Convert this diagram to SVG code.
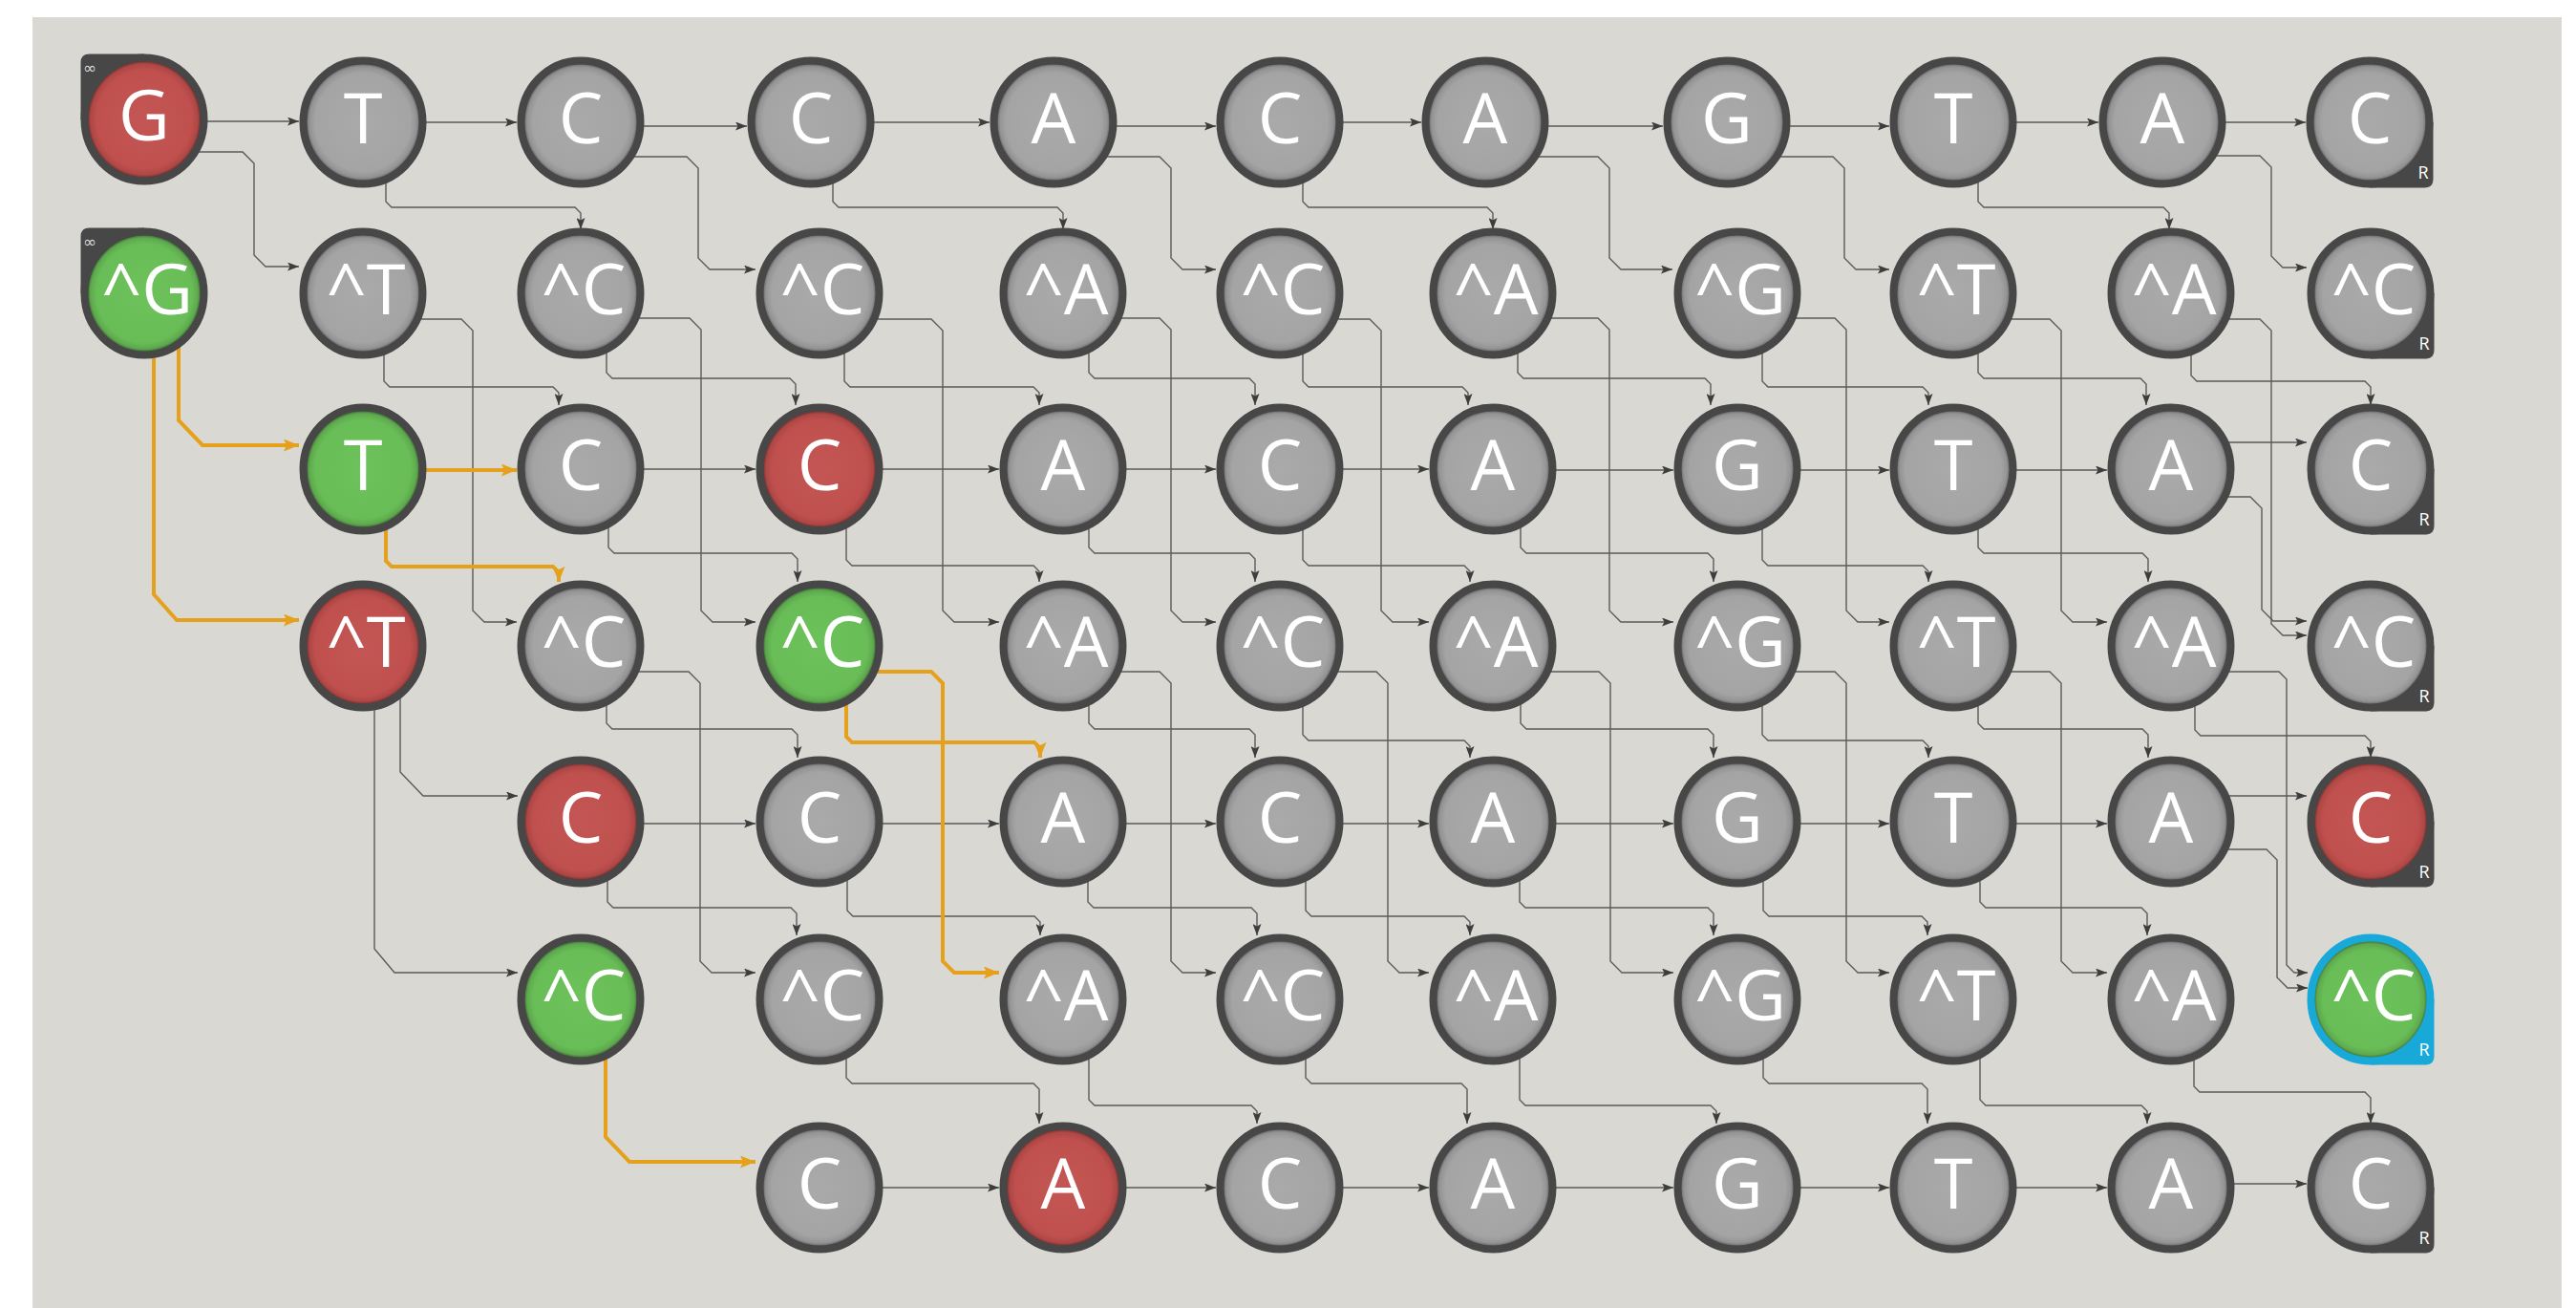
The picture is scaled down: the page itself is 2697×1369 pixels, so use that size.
<svg xmlns="http://www.w3.org/2000/svg" width="2697" height="1369" viewBox="0 0 2697 1369">
<style>
.edge{fill:none;stroke:#5a5a5a;stroke-width:1.4;marker-end:url(#ah)}
.hl{fill:none;stroke:#e6a11c;stroke-width:4;marker-end:url(#ahO)}
.node ellipse{stroke:#474747;stroke-width:8}
.gray ellipse{fill:url(#gGray)}
.red ellipse{fill:url(#gRed)}
.green ellipse{fill:url(#gGreen)}
.badge{fill:#474747}
.sel ellipse{stroke:#19a9d9}
.sel .badge{fill:#19a9d9}
.lbl{font-family:"Open Sans","DejaVu Sans",sans-serif;font-size:74px;fill:#fff;text-anchor:middle}
.inf{font-family:"DejaVu Sans",sans-serif;font-size:17px;fill:#d6d6d6;text-anchor:middle}
.r{font-family:"Open Sans","DejaVu Sans",sans-serif;font-size:18px;fill:#fff;text-anchor:middle}
</style>
<defs>
<radialGradient id="gGray" cx="50%" cy="50%" r="50%">
<stop offset="0" stop-color="#aaaaaa"/><stop offset="0.8" stop-color="#a4a4a4"/><stop offset="0.9" stop-color="#939393"/><stop offset="0.94" stop-color="#6e6e6e"/><stop offset="1" stop-color="#555555"/>
</radialGradient>
<radialGradient id="gRed" cx="50%" cy="50%" r="50%">
<stop offset="0" stop-color="#c35654"/><stop offset="0.8" stop-color="#bf504e"/><stop offset="0.9" stop-color="#ad4745"/><stop offset="0.94" stop-color="#7c3331"/><stop offset="1" stop-color="#5a2a29"/>
</radialGradient>
<radialGradient id="gGreen" cx="50%" cy="50%" r="50%">
<stop offset="0" stop-color="#6ec25b"/><stop offset="0.8" stop-color="#69bd57"/><stop offset="0.9" stop-color="#5ea94e"/><stop offset="0.94" stop-color="#44783a"/><stop offset="1" stop-color="#35592e"/>
</radialGradient>
<marker id="ah" markerUnits="userSpaceOnUse" markerWidth="12" markerHeight="9" refX="12" refY="4.5" orient="auto"><path d="M0,0 L12,4.5 L0,9 L2.5,4.5 z" fill="#3d3d3d"/></marker>
<marker id="ahO" markerUnits="userSpaceOnUse" markerWidth="16" markerHeight="13" refX="16" refY="6.5" orient="auto"><path d="M0,0 L16,6.5 L0,13 L3,6.5 z" fill="#e6a11c"/></marker>
<path id="bTL" d="M-66.5,0 V-59.5 Q-66.5,-68.5 -57.5,-68.5 H0 V0 z"/>
<path id="bBR" d="M0,0 H66.5 V59.5 Q66.5,68.5 57.5,68.5 H0 z"/>
</defs>
<rect x="0" y="0" width="2697" height="1369" fill="#ffffff"/>
<rect x="34" y="18" width="2648" height="1351" fill="#d9d8d3"/>
<g id="connectors">
<path class="edge" d="M404,178 V211 L410,217 H602 L608,223 V240"/>
<path class="edge" d="M872,178 V211 L878,217 H1107 L1113,223 V240"/>
<path class="edge" d="M1364,178 V211 L1370,217 H1557 L1563,223 V240"/>
<path class="edge" d="M2071,178 V211 L2077,217 H2265 L2271,223 V240"/>
<path class="edge" d="M402,357 V399 L408,405 H579 L585,411 V424"/>
<path class="edge" d="M635,357 V390 L641,396 H827 L833,402 V424"/>
<path class="edge" d="M884,357 V399 L890,405 H1082 L1088,411 V424"/>
<path class="edge" d="M1140,357 V390 L1146,396 H1308 L1314,402 V424"/>
<path class="edge" d="M1364,357 V399 L1370,405 H1531 L1537,411 V424"/>
<path class="edge" d="M1589,357 V390 L1595,396 H1785 L1791,402 V424"/>
<path class="edge" d="M1845,357 V399 L1851,405 H2013 L2019,411 V424"/>
<path class="edge" d="M2071,357 V390 L2077,396 H2241 L2247,402 V424"/>
<path class="edge" d="M2294,357 V393 L2300,399 H2476 L2482,405 V424"/>
<path class="edge" d="M637,541 V573 L643,579 H829 L835,585 V609"/>
<path class="edge" d="M886,541 V586 L892,592 H1082 L1088,598 V609"/>
<path class="edge" d="M1140,541 V573 L1146,579 H1308 L1314,585 V609"/>
<path class="edge" d="M1364,541 V586 L1370,592 H1533 L1539,598 V609"/>
<path class="edge" d="M1592,541 V573 L1598,579 H1788 L1794,585 V609"/>
<path class="edge" d="M1845,541 V586 L1851,592 H2013 L2019,598 V609"/>
<path class="edge" d="M2071,541 V573 L2077,579 H2243 L2249,585 V609"/>
<path class="edge" d="M635,726 V757 L641,763 H829 L835,769 V793"/>
<path class="edge" d="M1140,726 V757 L1146,763 H1308 L1314,769 V793"/>
<path class="edge" d="M1364,726 V769 L1370,775 H1533 L1539,781 V793"/>
<path class="edge" d="M1592,726 V757 L1598,763 H1788 L1794,769 V793"/>
<path class="edge" d="M1845,726 V769 L1851,775 H2013 L2019,781 V793"/>
<path class="edge" d="M2071,726 V757 L2077,763 H2243 L2249,769 V793"/>
<path class="edge" d="M2298,726 V764 L2304,770 H2476 L2482,776 V793"/>
<path class="edge" d="M636,910 V944 L642,950 H828 L834,956 V979"/>
<path class="edge" d="M887,910 V953 L893,959 H1083 L1089,965 V979"/>
<path class="edge" d="M1139,910 V944 L1145,950 H1310 L1316,956 V979"/>
<path class="edge" d="M1367,910 V953 L1373,959 H1533 L1539,965 V979"/>
<path class="edge" d="M1591,910 V944 L1597,950 H1788 L1794,956 V979"/>
<path class="edge" d="M1846,910 V953 L1852,959 H2012 L2018,965 V979"/>
<path class="edge" d="M2073,910 V944 L2079,950 H2242 L2248,956 V979"/>
<path class="edge" d="M886,1096 V1128 L892,1134 H1082 L1088,1140 V1176"/>
<path class="edge" d="M1140,1096 V1151 L1146,1157 H1310 L1316,1163 V1176"/>
<path class="edge" d="M1367,1096 V1128 L1373,1134 H1530 L1536,1140 V1176"/>
<path class="edge" d="M1591,1096 V1151 L1597,1157 H1791 L1797,1163 V1176"/>
<path class="edge" d="M1846,1096 V1128 L1852,1134 H2012 L2018,1140 V1176"/>
<path class="edge" d="M2073,1096 V1151 L2079,1157 H2242 L2248,1163 V1176"/>
<path class="edge" d="M2297,1096 V1137 L2303,1143 H2476 L2482,1149 V1176"/>
<path class="edge" d="M200,159 H254 L266,171 V267 L278,279 H313"/>
<path class="edge" d="M660,164 H719 L731,176 V270 L743,282 H791"/>
<path class="edge" d="M1150,164 H1214 L1226,176 V270 L1238,282 H1273"/>
<path class="edge" d="M1600,164 H1673 L1685,176 V270 L1697,282 H1751"/>
<path class="edge" d="M1850,164 H1919 L1931,176 V270 L1943,282 H1978"/>
<path class="edge" d="M2310,163 H2366 L2378,175 V268 L2390,280 H2415"/>
<path class="edge" d="M430,334 H483 L495,346 V639 L507,651 H541"/>
<path class="edge" d="M660,333 H722 L734,345 V639 L746,651 H791"/>
<path class="edge" d="M910,334 H975 L987,346 V639 L999,651 H1046"/>
<path class="edge" d="M1160,333 H1214 L1226,345 V639 L1238,651 H1273"/>
<path class="edge" d="M1390,334 H1434 L1446,346 V639 L1458,651 H1496"/>
<path class="edge" d="M1610,333 H1673 L1685,345 V639 L1697,651 H1752"/>
<path class="edge" d="M1870,333 H1921 L1933,345 V639 L1945,651 H1978"/>
<path class="edge" d="M2095,334 H2146 L2158,346 V639 L2170,651 H2206"/>
<path class="edge" d="M2320,334 H2366 L2378,346 V653 L2390,665 H2415"/>
<path class="edge" d="M2320,520 H2356 L2368,532 V638 L2380,650 H2415"/>
<path class="edge" d="M660,703 H721 L733,715 V1006 L745,1018 H791"/>
<path class="edge" d="M1160,703 H1214 L1226,715 V1006 L1238,1018 H1273"/>
<path class="edge" d="M1390,703 H1441 L1453,715 V1006 L1465,1018 H1496"/>
<path class="edge" d="M1610,703 H1674 L1686,715 V1006 L1698,1018 H1752"/>
<path class="edge" d="M1870,703 H1921 L1933,715 V1006 L1945,1018 H1978"/>
<path class="edge" d="M2095,703 H2146 L2158,715 V1006 L2170,1018 H2206"/>
<path class="edge" d="M2320,703 H2386 L2394,711 V1010 L2402,1018 H2416"/>
<path class="edge" d="M2320,889 H2373 L2384,900 V1023 L2395,1034 H2416"/>
<path class="edge" d="M419,720 V808 L443,833 H542"/>
<path class="edge" d="M392,720 V993 L413,1018 H542"/>
<path class="edge" d="M200,127 H313"/>
<path class="edge" d="M420,128 H541"/>
<path class="edge" d="M650,132 H782"/>
<path class="edge" d="M890,128 H1036"/>
<path class="edge" d="M1140,132 H1273"/>
<path class="edge" d="M1380,128 H1488"/>
<path class="edge" d="M1590,132 H1741"/>
<path class="edge" d="M1850,132 H1978"/>
<path class="edge" d="M2080,128 H2197"/>
<path class="edge" d="M2300,128 H2414"/>
<path class="edge" d="M650,491 H791"/>
<path class="edge" d="M900,491 H1046"/>
<path class="edge" d="M1150,491 H1273"/>
<path class="edge" d="M1380,491 H1496"/>
<path class="edge" d="M1600,492 H1752"/>
<path class="edge" d="M1860,492 H1978"/>
<path class="edge" d="M2080,492 H2206"/>
<path class="edge" d="M2310,463 H2415"/>
<path class="edge" d="M650,862 H791"/>
<path class="edge" d="M900,862 H1046"/>
<path class="edge" d="M1150,862 H1273"/>
<path class="edge" d="M1380,862 H1496"/>
<path class="edge" d="M1600,862 H1752"/>
<path class="edge" d="M1860,862 H1978"/>
<path class="edge" d="M2080,862 H2206"/>
<path class="edge" d="M2310,833 H2415"/>
<path class="edge" d="M900,1243 H1046"/>
<path class="edge" d="M1150,1243 H1273"/>
<path class="edge" d="M1380,1243 H1496"/>
<path class="edge" d="M1600,1243 H1752"/>
<path class="edge" d="M1860,1243 H1978"/>
<path class="edge" d="M2080,1243 H2206"/>
<path class="edge" d="M2310,1239 H2415"/>
<path class="hl" d="M187,340 V440 L212,466 H313"/>
<path class="hl" d="M161,340 V622 L185,649 H313"/>
<path class="hl" d="M420,492 H541"/>
<path class="hl" d="M404,541 V587 L410,593 H579 L585,599 V609"/>
<path class="hl" d="M886,726 V771 L892,777 H1083 L1089,783 V793"/>
<path class="hl" d="M910,703 H975 L987,715 V1006 L999,1018 H1046"/>
<path class="hl" d="M634,1090 V1190 L659,1216 H791"/>
</g>
<g id="nodes">
<g id="n0_0" class="node red" transform="translate(151,125)"><use href="#bTL" class="badge"/><ellipse rx="62.5" ry="64.5"/><text class="lbl" y="22">G</text><text class="inf" x="-57" y="-48">∞</text></g>
<g id="n0_1" class="node gray" transform="translate(380,128)"><ellipse rx="62.5" ry="64.5"/><text class="lbl" y="22">T</text></g>
<g id="n0_2" class="node gray" transform="translate(608,128)"><ellipse rx="62.5" ry="64.5"/><text class="lbl" y="22">C</text></g>
<g id="n0_3" class="node gray" transform="translate(849,128)"><ellipse rx="62.5" ry="64.5"/><text class="lbl" y="22">C</text></g>
<g id="n0_4" class="node gray" transform="translate(1103,128)"><ellipse rx="62.5" ry="64.5"/><text class="lbl" y="22">A</text></g>
<g id="n0_5" class="node gray" transform="translate(1340,128)"><ellipse rx="62.5" ry="64.5"/><text class="lbl" y="22">C</text></g>
<g id="n0_6" class="node gray" transform="translate(1555,128)"><ellipse rx="62.5" ry="64.5"/><text class="lbl" y="22">A</text></g>
<g id="n0_7" class="node gray" transform="translate(1808,128)"><ellipse rx="62.5" ry="64.5"/><text class="lbl" y="22">G</text></g>
<g id="n0_8" class="node gray" transform="translate(2045,128)"><ellipse rx="62.5" ry="64.5"/><text class="lbl" y="22">T</text></g>
<g id="n0_9" class="node gray" transform="translate(2264,128)"><ellipse rx="62.5" ry="64.5"/><text class="lbl" y="22">A</text></g>
<g id="n0_10" class="node gray" transform="translate(2481,128)"><use href="#bBR" class="badge"/><ellipse rx="62.5" ry="64.5"/><text class="lbl" y="22">C</text><text class="r" x="56" y="59">R</text></g>

<g id="n1_0" class="node green" transform="translate(151,307)"><use href="#bTL" class="badge"/><ellipse rx="62.5" ry="64.5"/><text class="lbl" x="3" y="22">^G</text><text class="inf" x="-57" y="-48">∞</text></g>
<g id="n1_1" class="node gray" transform="translate(380,307)"><ellipse rx="62.5" ry="64.5"/><text class="lbl" x="3" y="22">^T</text></g>
<g id="n1_2" class="node gray" transform="translate(608,307)"><ellipse rx="62.5" ry="64.5"/><text class="lbl" x="3" y="22">^C</text></g>
<g id="n1_3" class="node gray" transform="translate(858,307)"><ellipse rx="62.5" ry="64.5"/><text class="lbl" x="3" y="22">^C</text></g>
<g id="n1_4" class="node gray" transform="translate(1113,307)"><ellipse rx="62.5" ry="64.5"/><text class="lbl" x="3" y="22">^A</text></g>
<g id="n1_5" class="node gray" transform="translate(1340,307)"><ellipse rx="62.5" ry="64.5"/><text class="lbl" x="3" y="22">^C</text></g>
<g id="n1_6" class="node gray" transform="translate(1563,307)"><ellipse rx="62.5" ry="64.5"/><text class="lbl" x="3" y="22">^A</text></g>
<g id="n1_7" class="node gray" transform="translate(1819,307)"><ellipse rx="62.5" ry="64.5"/><text class="lbl" x="3" y="22">^G</text></g>
<g id="n1_8" class="node gray" transform="translate(2045,307)"><ellipse rx="62.5" ry="64.5"/><text class="lbl" x="3" y="22">^T</text></g>
<g id="n1_9" class="node gray" transform="translate(2273,307)"><ellipse rx="62.5" ry="64.5"/><text class="lbl" x="3" y="22">^A</text></g>
<g id="n1_10" class="node gray" transform="translate(2482,307)"><use href="#bBR" class="badge"/><ellipse rx="62.5" ry="64.5"/><text class="lbl" x="3" y="22">^C</text><text class="r" x="56" y="59">R</text></g>

<g id="n2_1" class="node green" transform="translate(380,491)"><ellipse rx="62.5" ry="64.5"/><text class="lbl" y="22">T</text></g>
<g id="n2_2" class="node gray" transform="translate(608,491)"><ellipse rx="62.5" ry="64.5"/><text class="lbl" y="22">C</text></g>
<g id="n2_3" class="node red" transform="translate(858,491)"><ellipse rx="62.5" ry="64.5"/><text class="lbl" y="22">C</text></g>
<g id="n2_4" class="node gray" transform="translate(1113,491)"><ellipse rx="62.5" ry="64.5"/><text class="lbl" y="22">A</text></g>
<g id="n2_5" class="node gray" transform="translate(1340,491)"><ellipse rx="62.5" ry="64.5"/><text class="lbl" y="22">C</text></g>
<g id="n2_6" class="node gray" transform="translate(1563,491)"><ellipse rx="62.5" ry="64.5"/><text class="lbl" y="22">A</text></g>
<g id="n2_7" class="node gray" transform="translate(1819,491)"><ellipse rx="62.5" ry="64.5"/><text class="lbl" y="22">G</text></g>
<g id="n2_8" class="node gray" transform="translate(2045,491)"><ellipse rx="62.5" ry="64.5"/><text class="lbl" y="22">T</text></g>
<g id="n2_9" class="node gray" transform="translate(2273,491)"><ellipse rx="62.5" ry="64.5"/><text class="lbl" y="22">A</text></g>
<g id="n2_10" class="node gray" transform="translate(2482,491)"><use href="#bBR" class="badge"/><ellipse rx="62.5" ry="64.5"/><text class="lbl" y="22">C</text><text class="r" x="56" y="59">R</text></g>

<g id="n3_1" class="node red" transform="translate(380,676)"><ellipse rx="62.5" ry="64.5"/><text class="lbl" x="3" y="22">^T</text></g>
<g id="n3_2" class="node gray" transform="translate(608,676)"><ellipse rx="62.5" ry="64.5"/><text class="lbl" x="3" y="22">^C</text></g>
<g id="n3_3" class="node green" transform="translate(858,676)"><ellipse rx="62.5" ry="64.5"/><text class="lbl" x="3" y="22">^C</text></g>
<g id="n3_4" class="node gray" transform="translate(1113,676)"><ellipse rx="62.5" ry="64.5"/><text class="lbl" x="3" y="22">^A</text></g>
<g id="n3_5" class="node gray" transform="translate(1340,676)"><ellipse rx="62.5" ry="64.5"/><text class="lbl" x="3" y="22">^C</text></g>
<g id="n3_6" class="node gray" transform="translate(1563,676)"><ellipse rx="62.5" ry="64.5"/><text class="lbl" x="3" y="22">^A</text></g>
<g id="n3_7" class="node gray" transform="translate(1819,676)"><ellipse rx="62.5" ry="64.5"/><text class="lbl" x="3" y="22">^G</text></g>
<g id="n3_8" class="node gray" transform="translate(2045,676)"><ellipse rx="62.5" ry="64.5"/><text class="lbl" x="3" y="22">^T</text></g>
<g id="n3_9" class="node gray" transform="translate(2273,676)"><ellipse rx="62.5" ry="64.5"/><text class="lbl" x="3" y="22">^A</text></g>
<g id="n3_10" class="node gray" transform="translate(2482,676)"><use href="#bBR" class="badge"/><ellipse rx="62.5" ry="64.5"/><text class="lbl" x="3" y="22">^C</text><text class="r" x="56" y="59">R</text></g>

<g id="n4_2" class="node red" transform="translate(608,860)"><ellipse rx="62.5" ry="64.5"/><text class="lbl" y="22">C</text></g>
<g id="n4_3" class="node gray" transform="translate(858,860)"><ellipse rx="62.5" ry="64.5"/><text class="lbl" y="22">C</text></g>
<g id="n4_4" class="node gray" transform="translate(1113,860)"><ellipse rx="62.5" ry="64.5"/><text class="lbl" y="22">A</text></g>
<g id="n4_5" class="node gray" transform="translate(1340,860)"><ellipse rx="62.5" ry="64.5"/><text class="lbl" y="22">C</text></g>
<g id="n4_6" class="node gray" transform="translate(1563,860)"><ellipse rx="62.5" ry="64.5"/><text class="lbl" y="22">A</text></g>
<g id="n4_7" class="node gray" transform="translate(1819,860)"><ellipse rx="62.5" ry="64.5"/><text class="lbl" y="22">G</text></g>
<g id="n4_8" class="node gray" transform="translate(2045,860)"><ellipse rx="62.5" ry="64.5"/><text class="lbl" y="22">T</text></g>
<g id="n4_9" class="node gray" transform="translate(2273,860)"><ellipse rx="62.5" ry="64.5"/><text class="lbl" y="22">A</text></g>
<g id="n4_10" class="node red" transform="translate(2482,860)"><use href="#bBR" class="badge"/><ellipse rx="62.5" ry="64.5"/><text class="lbl" y="22">C</text><text class="r" x="56" y="59">R</text></g>

<g id="n5_2" class="node green" transform="translate(608,1046)"><ellipse rx="62.5" ry="64.5"/><text class="lbl" x="3" y="22">^C</text></g>
<g id="n5_3" class="node gray" transform="translate(858,1046)"><ellipse rx="62.5" ry="64.5"/><text class="lbl" x="3" y="22">^C</text></g>
<g id="n5_4" class="node gray" transform="translate(1113,1046)"><ellipse rx="62.5" ry="64.5"/><text class="lbl" x="3" y="22">^A</text></g>
<g id="n5_5" class="node gray" transform="translate(1340,1046)"><ellipse rx="62.5" ry="64.5"/><text class="lbl" x="3" y="22">^C</text></g>
<g id="n5_6" class="node gray" transform="translate(1563,1046)"><ellipse rx="62.5" ry="64.5"/><text class="lbl" x="3" y="22">^A</text></g>
<g id="n5_7" class="node gray" transform="translate(1819,1046)"><ellipse rx="62.5" ry="64.5"/><text class="lbl" x="3" y="22">^G</text></g>
<g id="n5_8" class="node gray" transform="translate(2045,1046)"><ellipse rx="62.5" ry="64.5"/><text class="lbl" x="3" y="22">^T</text></g>
<g id="n5_9" class="node gray" transform="translate(2273,1046)"><ellipse rx="62.5" ry="64.5"/><text class="lbl" x="3" y="22">^A</text></g>
<g id="n5_10" class="node green sel" transform="translate(2482,1046)"><use href="#bBR" class="badge"/><ellipse rx="62.5" ry="64.5"/><text class="lbl" x="3" y="22">^C</text><text class="r" x="56" y="59">R</text></g>

<g id="n6_3" class="node gray" transform="translate(858,1243)"><ellipse rx="62.5" ry="64.5"/><text class="lbl" y="22">C</text></g>
<g id="n6_4" class="node red" transform="translate(1113,1243)"><ellipse rx="62.5" ry="64.5"/><text class="lbl" y="22">A</text></g>
<g id="n6_5" class="node gray" transform="translate(1340,1243)"><ellipse rx="62.5" ry="64.5"/><text class="lbl" y="22">C</text></g>
<g id="n6_6" class="node gray" transform="translate(1563,1243)"><ellipse rx="62.5" ry="64.5"/><text class="lbl" y="22">A</text></g>
<g id="n6_7" class="node gray" transform="translate(1819,1243)"><ellipse rx="62.5" ry="64.5"/><text class="lbl" y="22">G</text></g>
<g id="n6_8" class="node gray" transform="translate(2045,1243)"><ellipse rx="62.5" ry="64.5"/><text class="lbl" y="22">T</text></g>
<g id="n6_9" class="node gray" transform="translate(2273,1243)"><ellipse rx="62.5" ry="64.5"/><text class="lbl" y="22">A</text></g>
<g id="n6_10" class="node gray" transform="translate(2482,1243)"><use href="#bBR" class="badge"/><ellipse rx="62.5" ry="64.5"/><text class="lbl" y="22">C</text><text class="r" x="56" y="59">R</text></g>
</g>
</svg>
